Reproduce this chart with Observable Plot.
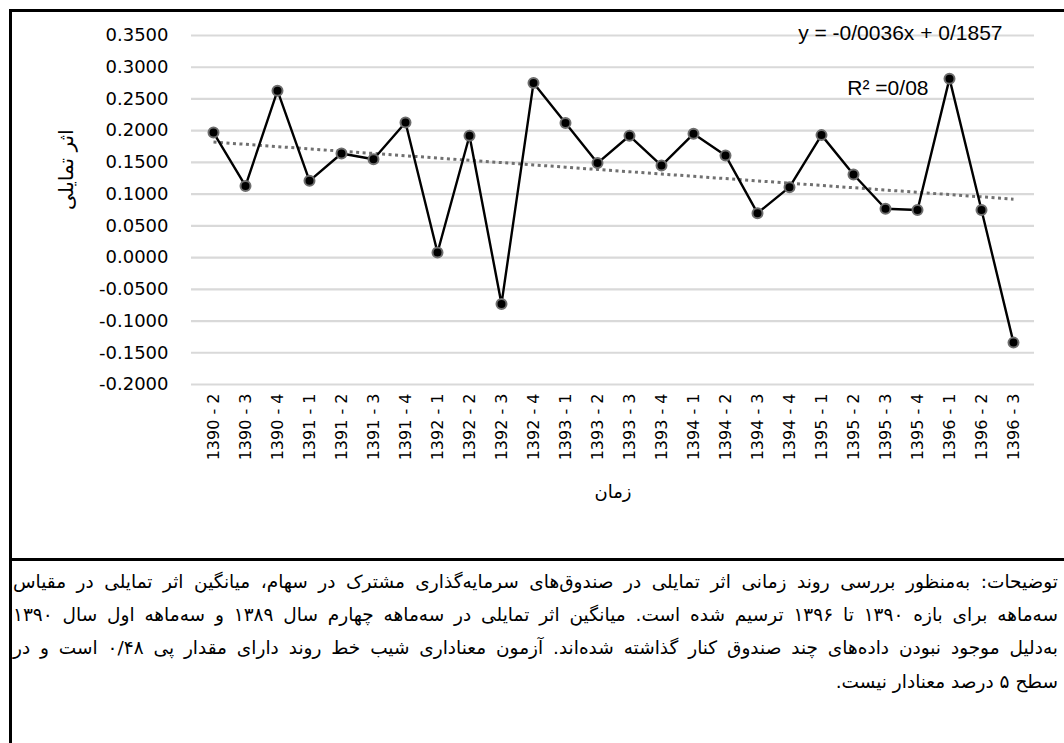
<!DOCTYPE html>
<html lang="fa">
<head>
<meta charset="utf-8">
<script src="https://cdn.jsdelivr.net/npm/d3@7"></script>
<script src="https://cdn.jsdelivr.net/npm/@observablehq/plot@0.6"></script>
<style>
  html, body { margin: 0; padding: 0; background: #fff; width: 1064px; height: 743px; overflow: hidden; }
  #wrap { position: relative; width: 1064px; height: 743px; }
  #chart { position: absolute; left: 0; top: 0; }
  .rule { position: absolute; background: #000; }
  #caption { position: absolute; left: 13px; top: 565px; width: 1045px; direction: rtl;
    font-family: "DejaVu Sans", sans-serif; font-size: 18.5px; line-height: 33.2px; color: #000; }
  #caption div { white-space: nowrap; }
  #caption div.j { text-align: justify; text-align-last: justify; }
  #caption div.l { text-align: right; }
</style>
</head>
<body>
<div id="wrap">
  <div id="chart"></div>
  <div class="rule" style="left:9px; top:9px; width:1060px; height:3px;"></div>
  <div class="rule" style="left:9px; top:9px; width:3px; height:740px;"></div>
  <div class="rule" style="left:9px; top:558px; width:1060px; height:3px;"></div>
  <div id="caption"></div>
</div>
<script>
// ---- data ----
const quarters = [
  "1390 - 2", "1390 - 3", "1390 - 4",
  "1391 - 1", "1391 - 2", "1391 - 3", "1391 - 4",
  "1392 - 1", "1392 - 2", "1392 - 3", "1392 - 4",
  "1393 - 1", "1393 - 2", "1393 - 3", "1393 - 4",
  "1394 - 1", "1394 - 2", "1394 - 3", "1394 - 4",
  "1395 - 1", "1395 - 2", "1395 - 3", "1395 - 4",
  "1396 - 1", "1396 - 2", "1396 - 3"
];
const values = [
  0.197, 0.113, 0.263,
  0.121, 0.164, 0.155, 0.213,
  0.008, 0.192, -0.073, 0.275,
  0.212, 0.149, 0.192, 0.145,
  0.195, 0.161, 0.070, 0.111,
  0.193, 0.131, 0.077, 0.075,
  0.282, 0.075, -0.134
];
const trendSlope = -0.0036;
const trendIntercept = 0.1857;
const yTicks = [-0.2, -0.15, -0.1, -0.05, 0, 0.05, 0.1, 0.15, 0.2, 0.25, 0.3, 0.35];
const equationText = "y = -0/0036x + 0/1857";
const r2Text = "R² =0/08";
const xTitle = "زمان";
const yTitle = "اثر تمایلی";
const captionLines = [
  "توضیحات: به‌منظور بررسی روند زمانی اثر تمایلی در صندوق‌های سرمایه‌گذاری مشترک در سهام، میانگین اثر تمایلی در مقیاس",
  "سه‌ماهه برای بازه ۱۳۹۰ تا ۱۳۹۶ ترسیم شده است. میانگین اثر تمایلی در سه‌ماهه چهارم سال ۱۳۸۹ و سه‌ماهه اول سال ۱۳۹۰",
  "به‌دلیل موجود نبودن داده‌های چند صندوق کنار گذاشته شده‌اند. آزمون معناداری شیب خط روند دارای مقدار پی ۰/۴۸ است و در",
  "سطح ۵ درصد معنادار نیست."
];

// ---- tables ----
const data = quarters.map((q, i) => ({q, v: values[i]}));
const trend = quarters.map((q, i) => ({q, v: trendIntercept + trendSlope * (i + 1)}));

const chart = Plot.plot({
  width: 1064,
  height: 560,
  marginLeft: 191,
  marginRight: 30,
  marginTop: 35,
  marginBottom: 176,
  style: {fontFamily: "DejaVu Sans, sans-serif", background: "transparent", overflow: "visible"},
  x: {type: "point", domain: quarters, padding: 0.5},
  y: {domain: [-0.2, 0.35]},
  marks: [
    Plot.gridY(yTicks, {stroke: "#d9d9d9", strokeOpacity: 1, strokeWidth: 2.2}),
    Plot.axisY(yTicks, {tickSize: 0, tickPadding: 23, fontSize: 18, fill: "#000",
      tickFormat: d => d.toFixed(4), label: null}),
    Plot.axisX({tickSize: 0, tickPadding: 9, tickRotate: -90, fontSize: 16, fill: "#000", label: null}),
    Plot.line(trend, {x: "q", y: "v", stroke: "#707070", strokeWidth: 3, strokeDasharray: "3,3.5", strokeLinecap: "butt"}),
    Plot.line(data, {x: "q", y: "v", stroke: "#000", strokeWidth: 2.4}),
    Plot.dot(data, {x: "q", y: "v", r: 5, fill: "#000", stroke: "#6e6e6e", strokeWidth: 2}),
    Plot.text([equationText], {text: d => d, frameAnchor: "top-right", dx: -32, dy: -10,
      fontFamily: "Liberation Sans, Arial, sans-serif", fontSize: 21, letterSpacing: 1.4, fill: "#000", textAnchor: "end"}),
    Plot.text([r2Text], {text: d => d, frameAnchor: "top-right", dx: -106, dy: 45,
      fontFamily: "Liberation Sans, Arial, sans-serif", fontSize: 21, fill: "#000", textAnchor: "end"}),
    Plot.text([xTitle], {text: d => d, frameAnchor: "bottom", dy: 113, fontSize: 18, fill: "#000"}),
    Plot.text([yTitle], {text: d => d, frameAnchor: "left", dx: -125, rotate: -90, fontSize: 20, fill: "#000"})
  ]
});
document.getElementById("chart").appendChild(chart);

const cap = document.getElementById("caption");
captionLines.forEach((t, i) => {
  const d = document.createElement("div");
  d.className = i < captionLines.length - 1 ? "j" : "l";
  d.textContent = t;
  cap.appendChild(d);
});
</script>
</body>
</html>
